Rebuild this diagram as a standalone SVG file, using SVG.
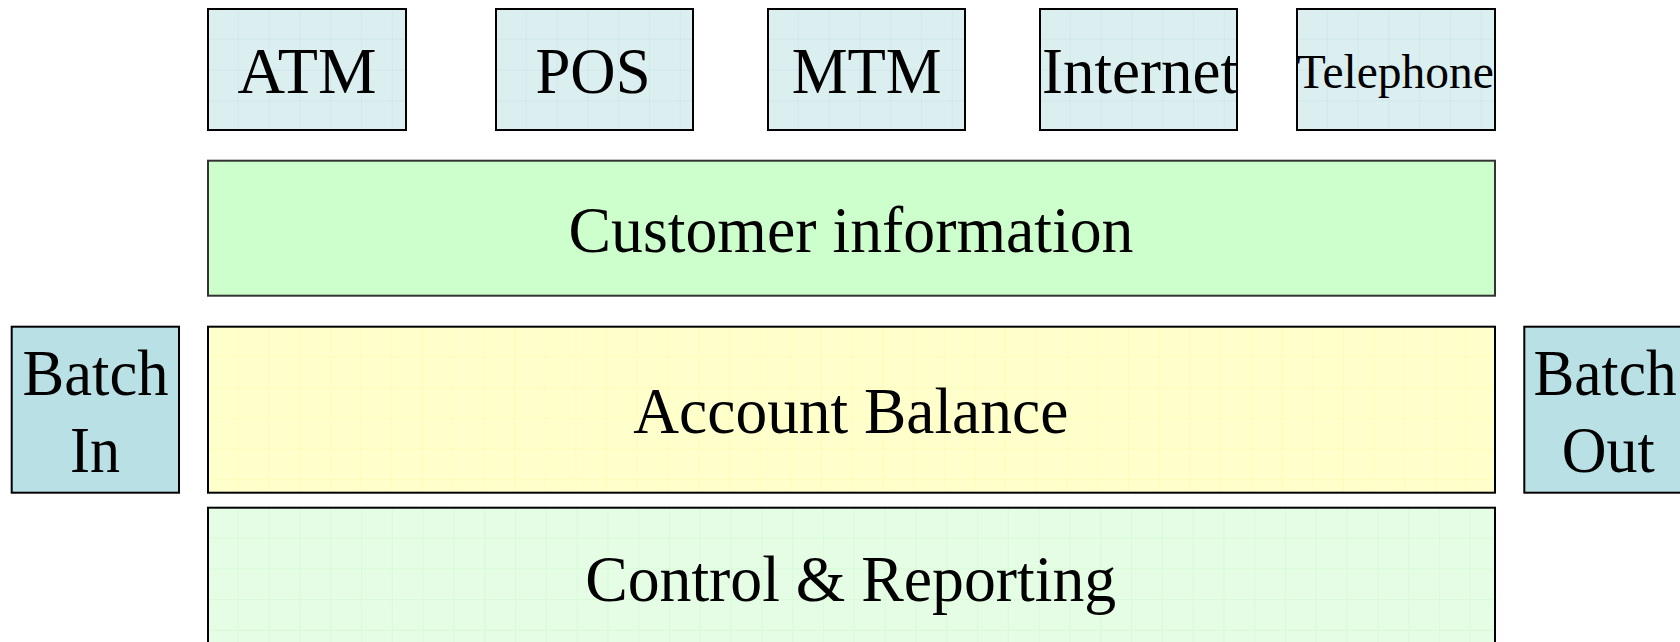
<svg xmlns="http://www.w3.org/2000/svg" width="1680" height="642" viewBox="0 0 1680 642">
<style>
  .lbl { font-family: "Liberation Serif", "Times New Roman", serif; font-size: 66px; fill: #000; text-anchor: middle; }
  .small { font-size: 48px; }
  .box { stroke: #000; stroke-width: 2; }
  .chan { fill: url(#gridBlue); }
  .cust { fill: #CCFFCC; stroke: #333; }
  .acct { fill: url(#gridYellow); }
  .ctrl { fill: url(#gridGreen); }
  .batch { fill: #B9E0E4; }
</style>
<defs>
  <pattern id="gridBlue" patternUnits="userSpaceOnUse" width="30.8" height="30.8">
    <rect width="30.8" height="30.8" fill="#DBEEF0"/>
    <path d="M30.8 0V30.8M0 30.8H30.8" stroke="#C4E4E8" stroke-width="1" fill="none"/>
  </pattern>
  <pattern id="gridYellow" patternUnits="userSpaceOnUse" width="30.7" height="30.7">
    <rect width="30.7" height="30.7" fill="#FFFFCC"/>
    <path d="M30.7 0V30.7M0 30.7H30.7" stroke="#FCFCA8" stroke-width="1" fill="none"/>
  </pattern>
  <pattern id="gridGreen" patternUnits="userSpaceOnUse" width="30.8" height="30.8">
    <rect width="30.8" height="30.8" fill="#E4FDE4"/>
    <path d="M30.8 0V30.8M0 30.8H30.8" stroke="#D0F8D0" stroke-width="1" fill="none"/>
  </pattern>
</defs>

<g id="atm" transform="translate(208,9)">
  <rect class="box chan" width="198" height="121"/>
  <text class="lbl" x="99" y="84.3" textLength="139" lengthAdjust="spacingAndGlyphs">ATM</text>
</g>
<g id="pos" transform="translate(496,9)">
  <rect class="box chan" width="197" height="121"/>
  <text class="lbl" x="97" y="84.3" textLength="115" lengthAdjust="spacingAndGlyphs">POS</text>
</g>
<g id="mtm" transform="translate(768,9)">
  <rect class="box chan" width="197" height="121"/>
  <text class="lbl" x="98.7" y="83.7" textLength="150" lengthAdjust="spacingAndGlyphs">MTM</text>
</g>
<g id="internet" transform="translate(1040,9)">
  <rect class="box chan" width="197" height="121"/>
  <text class="lbl" x="100" y="84.3" textLength="196" lengthAdjust="spacingAndGlyphs">Internet</text>
</g>
<g id="telephone" transform="translate(1297,9)">
  <rect class="box chan" width="198" height="121"/>
  <text class="lbl small" x="98.3" y="79.3" textLength="197" lengthAdjust="spacingAndGlyphs">Telephone</text>
</g>

<g id="customer-information" transform="translate(208,160.7)">
  <rect class="box cust" width="1287" height="135"/>
  <text class="lbl" x="643" y="91.3" textLength="565" lengthAdjust="spacingAndGlyphs">Customer information</text>
</g>

<g id="batch-in" transform="translate(11.7,326.7)">
  <rect class="box batch" width="167.3" height="166"/>
  <text class="lbl" x="83.8" y="68.3" textLength="146" lengthAdjust="spacingAndGlyphs">Batch</text>
  <text class="lbl" x="83.3" y="145" textLength="50" lengthAdjust="spacingAndGlyphs">In</text>
</g>

<g id="account-balance" transform="translate(208,326.7)">
  <rect class="box acct" width="1287" height="166"/>
  <text class="lbl" x="642.8" y="106.6" textLength="435" lengthAdjust="spacingAndGlyphs">Account Balance</text>
</g>

<g id="batch-out" transform="translate(1524.3,326.7)">
  <rect class="box batch" width="167.3" height="166"/>
  <text class="lbl" transform="translate(80.7,68.3) scale(0.93,1)" x="0" y="0">Batch</text>
  <text class="lbl" x="84" y="145" textLength="93" lengthAdjust="spacingAndGlyphs">Out</text>
</g>

<g id="control-reporting" transform="translate(208,507.7)">
  <rect class="box ctrl" width="1287" height="200"/>
  <text class="lbl" x="642.7" y="93.3" textLength="531" lengthAdjust="spacingAndGlyphs">Control &amp; Reporting</text>
</g>

<g id="connectors"></g>
</svg>
